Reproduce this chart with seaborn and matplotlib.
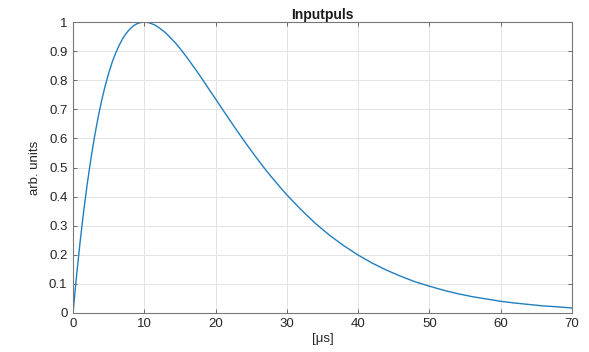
import numpy as np
import pandas as pd
import matplotlib
matplotlib.use('Agg')
import matplotlib.pyplot as plt
import seaborn as sns

# values
t_us = [0, 0.25, 0.5, 1, 1.5, 2, 2.5, 3, 3.5, 4, 4.5, 5, 5.5, 6, 6.5, 7, 7.5, 8,
        8.5, 9, 9.5, 10, 10.5, 11, 11.5, 12, 12.5, 13, 13.5, 14, 14.5, 15, 16,
        17, 18, 19, 20, 21, 22, 23, 24, 25, 26, 27, 28, 29, 30, 32, 34, 36, 38,
        40, 42, 44, 46, 48, 50, 52, 54, 56, 58, 60, 62, 64, 66, 68, 70]
amplitude = [0.0, 0.066, 0.129, 0.246, 0.351, 0.445, 0.529, 0.604, 0.670, 0.729,
             0.780, 0.824, 0.863, 0.895, 0.922, 0.945, 0.963, 0.977, 0.988, 0.995,
             0.999, 1.0, 0.999, 0.995, 0.990, 0.982, 0.973, 0.963, 0.951, 0.938,
             0.925, 0.910, 0.878, 0.844, 0.809, 0.772, 0.736, 0.699, 0.663, 0.627,
             0.592, 0.558, 0.525, 0.493, 0.463, 0.434, 0.406, 0.355, 0.308, 0.267,
             0.231, 0.199, 0.171, 0.147, 0.126, 0.107, 0.092, 0.078, 0.066, 0.056,
             0.048, 0.040, 0.034, 0.029, 0.024, 0.021, 0.017]
x_ticks = [0, 10, 20, 30, 40, 50, 60, 70]
y_ticks = [0, 0.1, 0.2, 0.3, 0.4, 0.5, 0.6, 0.7, 0.8, 0.9, 1]

df = pd.DataFrame({'t': t_us, 'a': amplitude})

sns.set_style('white')
plt.rcParams['font.family'] = ['Liberation Sans', 'DejaVu Sans']

fig = plt.figure(figsize=(5.89, 3.52), dpi=100)
ax = fig.add_axes([0.124, 0.111, 0.847, 0.826])

sns.lineplot(data=df, x='t', y='a', color='#1f7fc0', linewidth=1.0, ax=ax)

ax.set_xlim(0, 70)
ax.set_ylim(0, 1)
ax.set_xticks(x_ticks)
ax.set_yticks(y_ticks)
ax.set_yticklabels(['0', '0.1', '0.2', '0.3', '0.4', '0.5', '0.6', '0.7', '0.8', '0.9', '1'])
ax.grid(True, color='#e3e3e3', linewidth=0.7)
ax.set_axisbelow(True)
ax.tick_params(direction='in', length=3, width=0.6, colors='#555555',
               labelcolor='#262626', labelsize=9.5, top=True, right=True,
               bottom=True, left=True, pad=4)
for s in ax.spines.values():
    s.set_color('#777777')
    s.set_linewidth(0.8)

ax.set_title('Inputpuls', fontsize=10, fontweight='bold', pad=2, color='#1a1a1a')
ax.set_xlabel('[\u03bcs]', fontsize=9.5, labelpad=2, color='#262626')
ax.set_ylabel('arb. units', fontsize=9.5, labelpad=6, color='#262626')

plt.savefig('out.png', dpi=100)
plt.close()
